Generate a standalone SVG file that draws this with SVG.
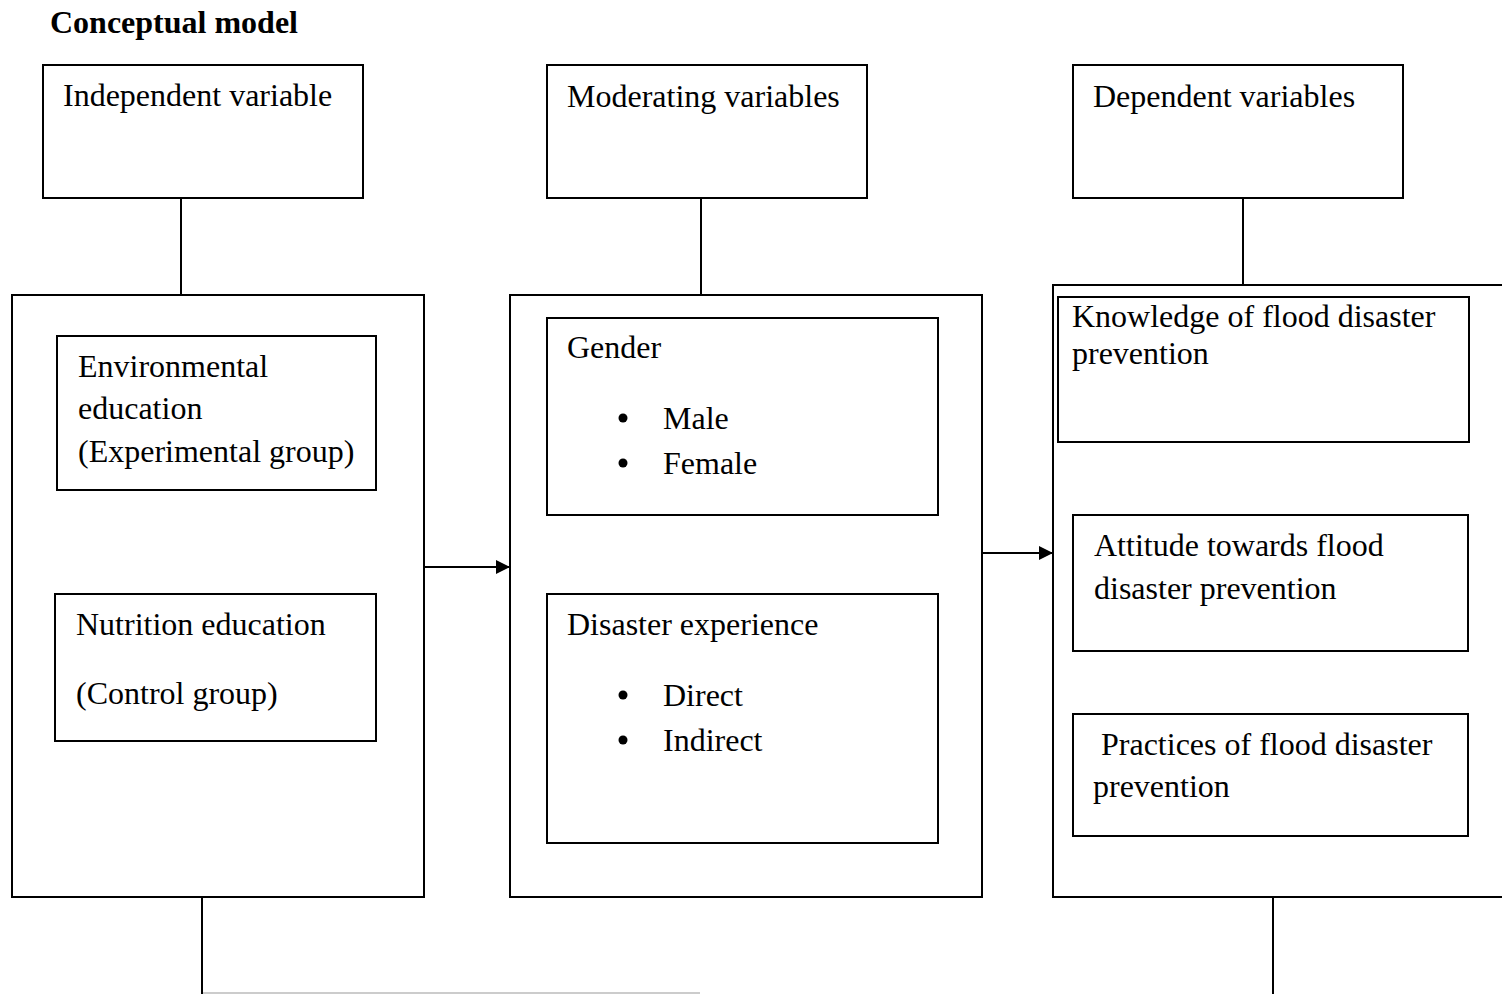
<svg xmlns="http://www.w3.org/2000/svg" width="1502" height="994" viewBox="0 0 1502 994">
<style>
.b{fill:#fff;stroke:#000;stroke-width:2}
.t{font-family:"Liberation Serif","Times New Roman",serif;font-size:32px;fill:#000}
.h{font-family:"Liberation Serif","Times New Roman",serif;font-size:32px;font-weight:bold;fill:#000}
.c{stroke:#000;stroke-width:2;fill:none}
</style>
<defs>
<marker id="ar" viewBox="0 0 10 10" refX="10" refY="5" markerWidth="14" markerHeight="14" markerUnits="userSpaceOnUse" orient="auto"><path d="M0,0L10,5L0,10z" fill="#000"/></marker>
</defs>
<rect width="1502" height="994" fill="#fff"/>
<text class="h" x="50" y="33">Conceptual model</text>
<g id="connectors">
<line class="c" x1="181" y1="198" x2="181" y2="295"/>
<line class="c" x1="701" y1="198" x2="701" y2="295"/>
<line class="c" x1="1243" y1="198" x2="1243" y2="285"/>
<line class="c" x1="424" y1="567" x2="510" y2="567" marker-end="url(#ar)"/>
<line class="c" x1="982" y1="553" x2="1053" y2="553" marker-end="url(#ar)"/>
<line class="c" x1="202" y1="897" x2="202" y2="994"/>
<line x1="203" y1="993" x2="700" y2="993" stroke="#ccc" stroke-width="2"/>
<line class="c" x1="1273" y1="897" x2="1273" y2="994"/>
</g>
<g id="independent-head"><rect class="b" x="43" y="65" width="320" height="133"/><text class="t" x="63" y="106">Independent variable</text></g>
<g id="moderating-head"><rect class="b" x="547" y="65" width="320" height="133"/><text class="t" x="567" y="107">Moderating variables</text></g>
<g id="dependent-head"><rect class="b" x="1073" y="65" width="330" height="133"/><text class="t" x="1093" y="107">Dependent variables</text></g>
<g id="independent-box"><rect class="b" x="12" y="295" width="412" height="602"/></g>
<g id="moderating-box"><rect class="b" x="510" y="295" width="472" height="602"/></g>
<g id="dependent-box"><rect class="b" x="1053" y="285" width="460" height="612"/></g>
<g id="env-edu"><rect class="b" x="57" y="336" width="319" height="154"/>
<text class="t" x="78" y="377">Environmental</text><text class="t" x="78" y="419">education</text><text class="t" x="78" y="462">(Experimental group)</text></g>
<g id="nut-edu"><rect class="b" x="55" y="594" width="321" height="147"/>
<text class="t" x="76" y="635">Nutrition education</text><text class="t" x="76" y="704">(Control group)</text></g>
<g id="gender"><rect class="b" x="547" y="318" width="391" height="197"/>
<text class="t" x="567" y="358">Gender</text>
<circle cx="623" cy="418" r="4.5"/><text class="t" x="663" y="429">Male</text>
<circle cx="623" cy="463" r="4.5"/><text class="t" x="663" y="474">Female</text></g>
<g id="experience"><rect class="b" x="547" y="594" width="391" height="249"/>
<text class="t" x="567" y="635">Disaster experience</text>
<circle cx="623" cy="695" r="4.5"/><text class="t" x="663" y="706">Direct</text>
<circle cx="623" cy="740" r="4.5"/><text class="t" x="663" y="751">Indirect</text></g>
<g id="knowledge"><rect class="b" x="1058" y="297" width="411" height="145"/>
<text class="t" x="1072" y="327">Knowledge of flood disaster</text><text class="t" x="1072" y="364">prevention</text></g>
<g id="attitude"><rect class="b" x="1073" y="515" width="395" height="136"/>
<text class="t" x="1094" y="556">Attitude towards flood</text><text class="t" x="1094" y="599">disaster prevention</text></g>
<g id="practices"><rect class="b" x="1073" y="714" width="395" height="122"/>
<text class="t" x="1101" y="755">Practices of flood disaster</text><text class="t" x="1093" y="797">prevention</text></g>
</svg>
